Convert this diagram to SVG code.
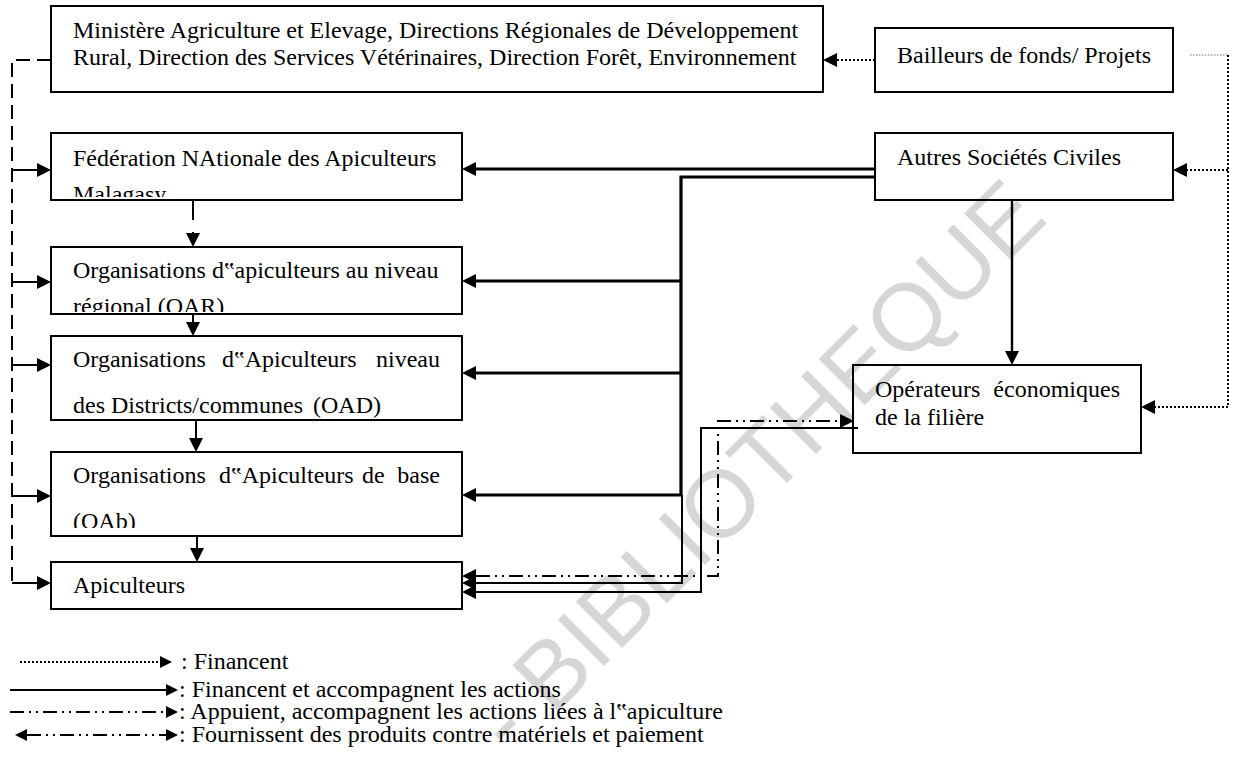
<svg xmlns="http://www.w3.org/2000/svg" width="1233" height="772" viewBox="0 0 1233 772">
<style>
.box{fill:#fff;stroke:#000;stroke-width:2}
.t{font-family:"Liberation Serif","Times New Roman",Times,serif;font-size:24px;fill:#000}
.c{fill:none;stroke:#000}
.thick{stroke-width:3.2}
.mid{stroke-width:2.4}
.thin{stroke-width:2}
.dash{stroke-dasharray:14,7}
.dot{stroke-dasharray:2,2;stroke-width:2}
.ddd{stroke-dasharray:14,5,2,5,2,5;stroke-width:2}
.wm{font-family:"Liberation Sans",Arial,sans-serif;font-size:95px;fill:#000;fill-opacity:0.16}
</style>
<defs>
<marker id="ah" viewBox="0 -7 14 14" markerWidth="14" markerHeight="14" refX="0" refY="0" markerUnits="userSpaceOnUse" orient="auto-start-reverse"><path d="M0,-7 L14,0 L0,7 z" fill="#000"/></marker>
<marker id="ahs" viewBox="0 -6 12 12" markerWidth="12" markerHeight="12" refX="0" refY="0" markerUnits="userSpaceOnUse" orient="auto-start-reverse"><path d="M0,-6 L12,0 L0,6 z" fill="#000"/></marker>
<clipPath id="cFnam"><rect x="51" y="133" width="411" height="64"/></clipPath>
<clipPath id="cOar"><rect x="51" y="247" width="411" height="65"/></clipPath>
<clipPath id="cOab"><rect x="51" y="452" width="411" height="76"/></clipPath>
</defs>

<g id="n-ministere"><rect class="box" x="51" y="6" width="772" height="86"/>
<text class="t" font-family="Liberation Serif, serif" x="73" y="38">Ministère Agriculture et Elevage, Directions Régionales de Développement</text>
<text class="t" font-family="Liberation Serif, serif" x="73" y="65">Rural, Direction des Services Vétérinaires, Direction Forêt, Environnement</text></g>

<g id="n-bailleurs"><rect class="box" x="875" y="28" width="298" height="64"/>
<text class="t" font-family="Liberation Serif, serif" x="897" y="63">Bailleurs de fonds/ Projets</text></g>

<g id="n-autres"><rect class="box" x="875" y="133" width="298" height="67"/>
<text class="t" font-family="Liberation Serif, serif" x="897" y="165">Autres Sociétés Civiles</text></g>

<g id="n-fnam"><rect class="box" x="51" y="133" width="411" height="67"/>
<g clip-path="url(#cFnam)"><text class="t" font-family="Liberation Serif, serif" x="73" y="166">Fédération NAtionale des Apiculteurs</text>
<text class="t" font-family="Liberation Serif, serif" x="73" y="202">Malagasy</text></g></g>

<g id="n-oar"><rect class="box" x="51" y="247" width="411" height="67"/>
<g clip-path="url(#cOar)"><text class="t" font-family="Liberation Serif, serif" x="73" y="278">Organisations d‟apiculteurs au niveau</text>
<text class="t" font-family="Liberation Serif, serif" x="73" y="314">régional (OAR)</text></g></g>

<g id="n-oad"><rect class="box" x="51" y="336" width="411" height="84"/>
<text class="t" font-family="Liberation Serif, serif" y="367"><tspan x="73">Organisations</tspan><tspan x="222">d‟Apiculteurs</tspan><tspan x="440" text-anchor="end">niveau</tspan></text>
<text class="t" font-family="Liberation Serif, serif" y="413"><tspan x="73">des Districts/communes</tspan><tspan x="313">(OAD)</tspan></text></g>

<g id="n-oab"><rect class="box" x="51" y="452" width="411" height="84"/>
<g clip-path="url(#cOab)"><text class="t" font-family="Liberation Serif, serif" y="483"><tspan x="73">Organisations</tspan><tspan x="219">d‟Apiculteurs</tspan><tspan x="362">de</tspan><tspan x="440" text-anchor="end">base</tspan></text>
<text class="t" font-family="Liberation Serif, serif" x="73" y="529">(OAb)</text></g></g>

<g id="n-api"><rect class="box" x="51" y="562" width="411" height="47"/>
<text class="t" font-family="Liberation Serif, serif" x="73" y="593">Apiculteurs</text></g>

<g id="n-operateurs"><rect class="box" x="853" y="365" width="288" height="88"/>
<text class="t" font-family="Liberation Serif, serif" y="397"><tspan x="875">Opérateurs</tspan><tspan x="1120" text-anchor="end">économiques</tspan></text>
<text class="t" font-family="Liberation Serif, serif" x="875" y="425">de la filière</text></g>

<g id="connectors">
<path class="c thin dash" d="M51,60 H12 V583"/>
<path class="c thin" marker-end="url(#ah)" d="M12,170 H37"/>
<path class="c thin" marker-end="url(#ah)" d="M12,282 H37"/>
<path class="c thin" marker-end="url(#ah)" d="M12,365 H37"/>
<path class="c thin" marker-end="url(#ah)" d="M12,496 H37"/>
<path class="c thin" marker-end="url(#ah)" d="M12,583 H37"/>
<path class="c thin" style="stroke-dasharray:20,12" marker-end="url(#ah)" d="M193,200 V233"/>
<path class="c thin" marker-end="url(#ah)" d="M193,314 V322"/>
<path class="c thin" marker-end="url(#ah)" d="M196,420 V438"/>
<path class="c thin" marker-end="url(#ah)" d="M197,536 V548"/>
<path class="c thick" marker-end="url(#ah)" d="M875,169 H476"/>
<path class="c thick" marker-end="url(#ah)" d="M875,177 H681 V495 H476"/>
<path class="c thick" marker-end="url(#ah)" d="M681,281 H476"/>
<path class="c thick" marker-end="url(#ah)" d="M681,373 H476"/>
<path class="c thin" marker-end="url(#ah)" d="M682,495 V583 H476"/>
<path class="c mid" marker-end="url(#ah)" d="M1012,200 V351"/>
<path class="c thin" marker-end="url(#ah)" d="M858,428 H701 V592 H476"/>
<path class="c ddd" marker-start="url(#ah)" marker-end="url(#ah)" d="M476,576 H718 V421 H840"/>
<path class="c dot" marker-end="url(#ah)" d="M875,60 H837"/>
<path class="c" style="stroke:#777;stroke-width:1;stroke-dasharray:1.5,1.5" d="M1190,55 H1228"/>
<path class="c dot" marker-end="url(#ah)" d="M1228,55 V407 H1155"/>
<path class="c dot" marker-end="url(#ah)" d="M1228,170 H1187"/>
</g>

<g id="legend">
<path class="c dot" marker-end="url(#ahs)" d="M20,662 H160"/>
<text class="t" font-family="Liberation Serif, serif" x="181" y="669">: Financent</text>
<path class="c thin" marker-end="url(#ahs)" d="M10,690 H166"/>
<text class="t" font-family="Liberation Serif, serif" x="179" y="697">: Financent et accompagnent les actions</text>
<path class="c ddd" marker-end="url(#ahs)" d="M10,712 H166"/>
<text class="t" font-family="Liberation Serif, serif" x="179" y="719">: Appuient, accompagnent les actions liées à l‟apiculture</text>
<path class="c ddd" marker-start="url(#ahs)" marker-end="url(#ahs)" d="M27,735 H166"/>
<text class="t" font-family="Liberation Serif, serif" x="179" y="742">: Fournissent des produits contre matériels et paiement</text>
</g>

<text class="wm" transform="translate(512,758) rotate(-45)">- BIBLIOTHEQUE</text>
</svg>
